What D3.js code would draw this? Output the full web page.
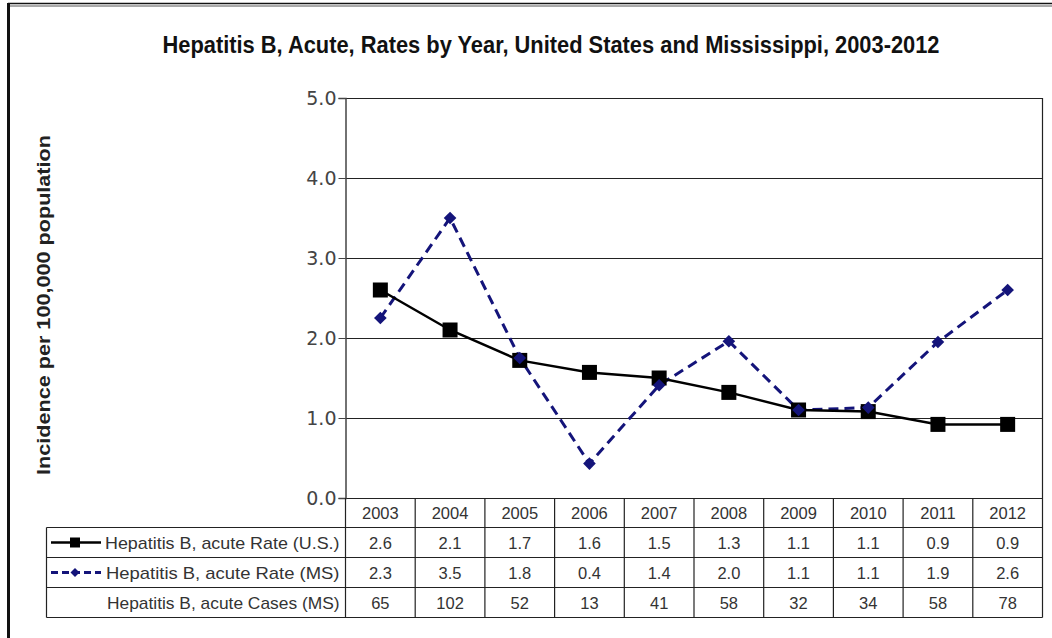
<!DOCTYPE html>
<html><head><meta charset="utf-8">
<script src="https://cdn.jsdelivr.net/npm/d3@7"></script>
<style>body{margin:0;background:#fff}svg{display:block}</style>
</head><body>
<script>
const years = ["2003","2004","2005","2006","2007","2008","2009","2010","2011","2012"];
const usRate = [2.6, 2.1, 1.72, 1.57, 1.5, 1.32, 1.1, 1.08, 0.92, 0.92];
const msRate = [2.25, 3.5, 1.75, 0.43, 1.41, 1.96, 1.1, 1.13, 1.95, 2.6];
const usRateLabels = ["2.6","2.1","1.7","1.6","1.5","1.3","1.1","1.1","0.9","0.9"];
const msRateLabels = ["2.3","3.5","1.8","0.4","1.4","2.0","1.1","1.1","1.9","2.6"];
const msCases = ["65","102","52","13","41","58","32","34","58","78"];
const yTicks = [0,1,2,3,4,5];
const seriesNames = ["Hepatitis B, acute Rate (U.S.)","Hepatitis B, acute Rate (MS)","Hepatitis B, acute Cases (MS)"];
const titleText = "Hepatitis B, Acute, Rates by Year, United States and Mississippi, 2003-2012";
const yTitle = "Incidence per 100,000 population";

(function(){
const W = 1052, H = 638;
const svg = d3.select("body").append("svg").attr("width", W).attr("height", H);
const F = "'Liberation Sans', Arial, sans-serif";
const navy = "#14147a";

// outer frame
svg.append("line").attr("x1",8).attr("x2",W).attr("y1",3.5).attr("y2",3.5).attr("stroke","#111").attr("stroke-width",1.5);
svg.append("line").attr("x1",8).attr("x2",W).attr("y1",6).attr("y2",6).attr("stroke","#555").attr("stroke-width",1);
svg.append("line").attr("x1",8.5).attr("x2",8.5).attr("y1",3).attr("y2",H).attr("stroke","#111").attr("stroke-width",3);

const pL = 345.5, pR = 1042.5, pT = 98, pB = 498;
const x = d3.scaleBand().domain(years).range([pL, pR]);
const y = d3.scaleLinear().domain([0,5]).range([pB, pT]);

// title
svg.append("text").attr("x", 551).attr("y", 53).attr("text-anchor","middle")
  .attr("font-family",F).attr("font-weight","bold").attr("font-size",23).attr("fill","#111")
  .attr("textLength",777).attr("lengthAdjust","spacingAndGlyphs").text(titleText);

// gridlines
svg.append("g").selectAll("line").data(yTicks).join("line")
  .attr("x1", pL).attr("x2", pR).attr("y1", d=>Math.round(y(d))+0.5).attr("y2", d=>Math.round(y(d))+0.5)
  .attr("stroke", "#222").attr("stroke-width", 1.2);
svg.append("line").attr("x1",pR).attr("x2",pR).attr("y1",pT).attr("y2",pB).attr("stroke","#222").attr("stroke-width",1.2);

// y axis
const yAxis = d3.axisLeft(y).tickValues(yTicks).tickFormat(d3.format(".1f")).tickSize(7).tickPadding(2);
const ga = svg.append("g").attr("transform",`translate(${pL},0)`).call(yAxis);
ga.select(".domain").attr("stroke","#444").attr("stroke-width",1.5);
ga.selectAll(".tick line").attr("stroke","#444");
ga.selectAll("text").attr("font-family","'DejaVu Sans', sans-serif").attr("font-size",19).attr("fill","#444");

// y title
svg.append("text").attr("transform","translate(50,305) rotate(-90)").attr("text-anchor","middle")
  .attr("font-family",F).attr("font-weight","bold").attr("font-size",19).attr("fill","#222")
  .attr("textLength",340).attr("lengthAdjust","spacingAndGlyphs").text(yTitle);

// lines
const cx = d => x(d) + x.bandwidth()/2;
const lineGen = d3.line().x(d=>cx(d[0])).y(d=>y(d[1]));
svg.append("path").datum(years.map((yr,i)=>[yr, msRate[i]])).attr("d", lineGen)
  .attr("fill","none").attr("stroke",navy).attr("stroke-width",3).attr("stroke-dasharray","10,6");
svg.append("path").datum(years.map((yr,i)=>[yr, usRate[i]])).attr("d", lineGen)
  .attr("fill","none").attr("stroke","#000").attr("stroke-width",2.5);

svg.append("g").selectAll("rect").data(years.map((yr,i)=>[yr, usRate[i]])).join("rect")
  .attr("x", d=>cx(d[0])-7.5).attr("y", d=>y(d[1])-7.5).attr("width",15).attr("height",15).attr("fill","#000");
svg.append("g").selectAll("path").data(years.map((yr,i)=>[yr, msRate[i]])).join("path")
  .attr("d", d3.symbol().type(d3.symbolSquare).size(80)).attr("transform", d=>`translate(${cx(d[0])},${y(d[1])}) rotate(45)`)
  .attr("fill", navy);

// table
const tLeft = 46.5, rowY = [pB, 527.5, 557.5, 587.5, 617.5];
const tg = svg.append("g");
[rowY[1], rowY[2], rowY[3], rowY[4]].forEach((yy)=>{
  tg.append("line").attr("x1",tLeft).attr("x2",pR).attr("y1",yy).attr("y2",yy).attr("stroke","#222").attr("stroke-width",1.2);
});
tg.append("line").attr("x1",tLeft).attr("x2",tLeft).attr("y1",rowY[1]).attr("y2",rowY[4]).attr("stroke","#222").attr("stroke-width",1.2);
const vx = years.map(yr=>x(yr)).concat([pR]);
tg.selectAll(".v").data(vx).join("line").attr("class","v")
  .attr("x1",d=>d).attr("x2",d=>d).attr("y1",rowY[0]).attr("y2",rowY[4]).attr("stroke","#222").attr("stroke-width",1.2);

const tf = "'Liberation Sans', Arial, sans-serif";
function rowText(arr, r){
  tg.selectAll(".r"+r).data(arr).join("text").attr("class","r"+r)
    .attr("x",(d,i)=>cx(years[i])).attr("y",(rowY[r]+rowY[r+1])/2+6)
    .attr("text-anchor","middle").attr("font-family",tf).attr("font-size",16.5).attr("fill","#333").text(d=>d);
}
rowText(years,0); rowText(usRateLabels,1); rowText(msRateLabels,2); rowText(msCases,3);

const labelStart = [105, 106, 107];
seriesNames.forEach((n,i)=>{
  tg.append("text").attr("x",pL-6).attr("y",(rowY[i+1]+rowY[i+2])/2+6).attr("text-anchor","end")
    .attr("font-family",tf).attr("font-size",17).attr("fill","#333")
    .attr("textLength", pL-6-labelStart[i]).attr("lengthAdjust","spacingAndGlyphs").text(n);
});
const k1 = (rowY[1]+rowY[2])/2, k2 = (rowY[2]+rowY[3])/2;
tg.append("line").attr("x1",51).attr("x2",101).attr("y1",k1).attr("y2",k1).attr("stroke","#000").attr("stroke-width",2.5);
tg.append("rect").attr("x",70).attr("y",k1-5).attr("width",10).attr("height",10).attr("fill","#000");
tg.append("line").attr("x1",51).attr("x2",101).attr("y1",k2).attr("y2",k2).attr("stroke",navy).attr("stroke-width",3).attr("stroke-dasharray","7,4");
tg.append("path").attr("transform",`translate(75,${k2}) rotate(45)`).attr("d", d3.symbol().type(d3.symbolSquare).size(40)).attr("fill",navy);
})();
</script>
</body></html>
